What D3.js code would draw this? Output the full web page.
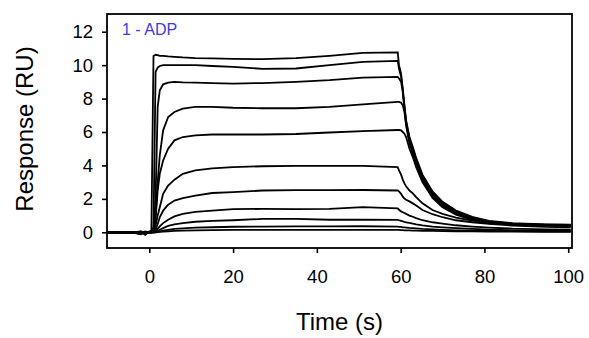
<!DOCTYPE html>
<html>
<head>
<meta charset="utf-8">
<script src="https://cdn.jsdelivr.net/npm/d3@7"></script>
<style>
  body { margin: 0; background: #fff; }
  svg { display: block; }
  text { font-family: "Liberation Sans", Arial, sans-serif; fill: #000; }
</style>
</head>
<body>
<svg id="chart" width="589" height="338"></svg>
<script>
// sample times (s) shared by every sensorgram curve
var times = [-10, -4, -2, -1, 0, 0.5, 1, 1.5, 2, 2.5, 3.3, 4.5, 6, 8, 11, 15, 20, 27, 35, 43, 51,
  59.3, 59.6, 60.1, 60.5, 60.9, 61.3, 62.1, 62.9, 63.7, 65.2, 67.6, 70, 73.2, 77.1, 81.1, 86.7, 94.6, 100.6];

// response (RU) per concentration, highest first
var curve1 = [0.02, 0.0, -0.1, 0.05, 0.0, 0.1, 10.55, 10.62, 10.6, 10.55, 10.55, 10.52, 10.5, 10.46, 10.42, 10.4, 10.38, 10.36, 10.42, 10.56, 10.74,
  10.76, 10.0, 9.5, 8.6, 7.6, 6.7, 5.7, 5.1, 4.45, 3.45, 2.45, 1.82, 1.3, 0.92, 0.68, 0.54, 0.47, 0.45];
var curve2 = [0.0, -0.05, 0.05, -0.15, 0.05, 0.05, 0.3, 9.6, 9.85, 9.95, 10.0, 10.0, 10.0, 10.0, 10.0, 9.95, 9.9, 9.78, 9.8, 10.0, 10.2,
  10.26, 9.8, 9.3, 8.5, 7.5, 6.6, 5.6, 5.0, 4.35, 3.35, 2.38, 1.76, 1.26, 0.88, 0.65, 0.52, 0.46, 0.44];
var curve3 = [0.0, 0.02, -0.05, 0.0, 0.0, 0.0, 0.1, 2.0, 7.5, 8.5, 8.85, 8.95, 9.0, 8.97, 8.95, 8.93, 8.9, 8.93, 9.0, 9.1, 9.25,
  9.3, 9.2, 9.0, 8.4, 7.4, 6.5, 5.45, 4.85, 4.2, 3.25, 2.28, 1.68, 1.18, 0.82, 0.62, 0.5, 0.44, 0.42];
var curve4 = [0.0, 0.0, 0.05, -0.1, 0.0, 0.0, 0.05, 1.0, 3.0, 4.6, 6.1, 6.9, 7.2, 7.4, 7.5, 7.5, 7.45, 7.42, 7.42, 7.5, 7.65,
  7.8, 7.8, 7.75, 7.6, 7.2, 6.4, 5.3, 4.7, 4.1, 3.1, 2.15, 1.6, 1.1, 0.78, 0.6, 0.48, 0.42, 0.4];
var curve5 = [0.0, -0.02, -0.12, 0.0, 0.02, 0.0, 0.05, 0.8, 2.5, 3.5, 4.3, 5.0, 5.5, 5.7, 5.8, 5.85, 5.85, 5.85, 5.88, 5.97, 6.05,
  6.12, 6.12, 6.1, 6.0, 5.9, 5.7, 5.0, 4.5, 3.9, 3.0, 2.05, 1.5, 1.05, 0.75, 0.57, 0.46, 0.4, 0.38];
var curve6 = [0.0, 0.0, 0.0, -0.05, 0.0, 0.0, 0.03, 0.4, 1.0, 1.5, 2.3, 2.8, 3.15, 3.5, 3.7, 3.82, 3.9, 3.95, 3.97, 3.97, 3.97,
  3.9, 3.7, 3.45, 3.15, 2.93, 2.75, 2.5, 2.33, 2.1, 1.73, 1.33, 1.1, 0.88, 0.7, 0.54, 0.46, 0.42, 0.4];
var curve7 = [0.0, 0.0, -0.08, 0.0, 0.0, 0.0, 0.02, 0.15, 0.5, 0.9, 1.3, 1.65, 1.9, 2.05, 2.2, 2.35, 2.4, 2.5, 2.52, 2.52, 2.53,
  2.5, 2.45, 2.3, 2.13, 2.02, 1.95, 1.85, 1.73, 1.6, 1.33, 1.08, 0.9, 0.72, 0.6, 0.5, 0.4, 0.32, 0.3];
var curve8 = [0.0, 0.0, 0.0, 0.0, 0.0, 0.0, 0.0, 0.05, 0.2, 0.35, 0.55, 0.75, 0.95, 1.1, 1.22, 1.3, 1.38, 1.4, 1.38, 1.4, 1.5,
  1.43, 1.35, 1.25, 1.2, 1.15, 1.1, 1.0, 0.93, 0.85, 0.72, 0.6, 0.52, 0.42, 0.34, 0.28, 0.22, 0.18, 0.16];
var curve9 = [0.0, 0.0, 0.0, 0.0, 0.0, 0.0, 0.0, 0.02, 0.08, 0.15, 0.25, 0.38, 0.48, 0.55, 0.63, 0.68, 0.72, 0.8, 0.8, 0.75, 0.75,
  0.74, 0.72, 0.68, 0.65, 0.62, 0.6, 0.56, 0.52, 0.48, 0.42, 0.34, 0.3, 0.25, 0.2, 0.16, 0.12, 0.1, 0.1];
var curve10 = [0.0, 0.0, 0.0, 0.0, 0.0, 0.0, 0.0, 0.0, 0.03, 0.06, 0.1, 0.15, 0.2, 0.24, 0.28, 0.3, 0.33, 0.34, 0.35, 0.35, 0.36,
  0.34, 0.33, 0.32, 0.3, 0.29, 0.28, 0.26, 0.25, 0.23, 0.2, 0.18, 0.15, 0.12, 0.1, 0.08, 0.07, 0.06, 0.05];
var curve11 = [0.0, 0.0, 0.0, 0.0, 0.0, 0.0, 0.0, 0.0, 0.01, 0.02, 0.04, 0.06, 0.08, 0.1, 0.12, 0.13, 0.14, 0.14, 0.15, 0.15, 0.15,
  0.14, 0.14, 0.13, 0.13, 0.12, 0.12, 0.11, 0.1, 0.1, 0.09, 0.08, 0.07, 0.06, 0.05, 0.04, 0.04, 0.03, 0.03];

var curves = [curve1, curve2, curve3, curve4, curve5, curve6, curve7, curve8, curve9, curve10, curve11];

var xTicks = [0, 20, 40, 60, 80, 100];
var yTicks = [0, 2, 4, 6, 8, 10, 12];
var panelLabel = "1 - ADP";
var xTitle = "Time (s)";
var yTitle = "Response (RU)";

var margin = { top: 14, right: 17, bottom: 90, left: 107 };
var width = 589 - margin.left - margin.right;
var height = 338 - margin.top - margin.bottom;

var svg = d3.select("#chart");
var g = svg.append("g")
  .attr("transform", "translate(" + margin.left + "," + margin.top + ")");

var xScale = d3.scaleLinear()
  .domain([-10.1, 100.9])
  .range([0, width]);

var yScale = d3.scaleLinear()
  .domain([-0.94, 13.06])
  .range([height, 0]);

var line = d3.line()
  .x(function (d, i) { return xScale(times[i]); })
  .y(function (d) { return yScale(d); });

// clip the traces to the frame
g.append("clipPath")
  .attr("id", "plot-clip")
  .append("rect")
  .attr("width", width)
  .attr("height", height);

g.append("g")
  .attr("clip-path", "url(#plot-clip)")
  .selectAll(".trace")
  .data(curves)
  .enter()
  .append("path")
  .attr("class", "trace")
  .attr("d", line)
  .attr("fill", "none")
  .attr("stroke", "#000")
  .attr("stroke-width", 1.8)
  .attr("stroke-linejoin", "miter");

var yAxis = d3.axisLeft(yScale)
  .tickValues(yTicks)
  .tickSize(5)
  .tickPadding(9);

var xAxis = d3.axisBottom(xScale)
  .tickValues(xTicks)
  .tickSize(5)
  .tickPadding(17);

var yAxisG = g.append("g").call(yAxis);
var xAxisG = g.append("g")
  .attr("transform", "translate(0," + height + ")")
  .call(xAxis);

[yAxisG, xAxisG].forEach(function (ax) {
  ax.select(".domain").remove();
  ax.selectAll(".tick line").attr("stroke", "#000").attr("stroke-width", 1.6);
  ax.selectAll(".tick text")
    .style("font-family", "'Liberation Sans', Arial, sans-serif")
    .style("font-size", "18.5px")
    .attr("fill", "#000");
});

// frame round the plot
g.append("rect")
  .attr("width", width)
  .attr("height", height)
  .attr("fill", "none")
  .attr("stroke", "#000")
  .attr("stroke-width", 1.8);

g.append("text")
  .attr("x", 15)
  .attr("y", 21)
  .style("font-size", "16px")
  .style("fill", "#3a3af0")
  .text(panelLabel);

svg.append("text")
  .attr("x", margin.left + width / 2)
  .attr("y", 330)
  .attr("text-anchor", "middle")
  .style("font-size", "24px")
  .text(xTitle);

svg.append("text")
  .attr("transform", "translate(33," + 129 + ") rotate(-90)")
  .attr("text-anchor", "middle")
  .style("font-size", "24px")
  .text(yTitle);
</script>
</body>
</html>
